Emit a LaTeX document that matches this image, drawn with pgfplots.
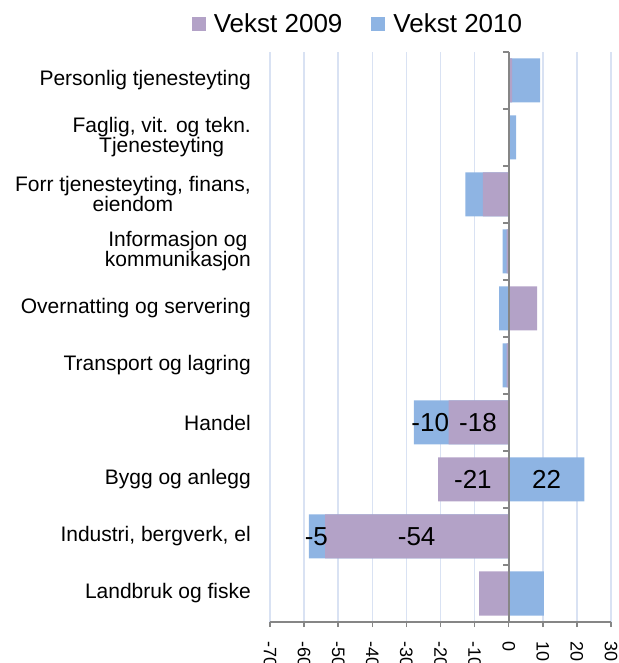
\documentclass[border=0pt]{standalone}
\usepackage{pgfplots}
\pgfplotsset{compat=1.18}
\usepackage{pgfplotstable}
\usepackage{fontspec}
\setmainfont{Liberation Sans}
\definecolor{cA}{RGB}{179,162,199}
\definecolor{cB}{RGB}{142,180,227}
\definecolor{gridc}{RGB}{217,226,243}
\definecolor{axc}{RGB}{134,134,134}

\pgfplotstableread{
y v09 v10
0 -8.7 10.3
1 -53.8 -4.8
2 -20.7 22.2
3 -17.6 -10.2
4 -0.6 -1.2
5 8.3 -2.8
6 -0.6 -1.2
7 -7.6 -5.1
8 0 2.2
9 1.0 8.2
}\datatable

\begin{document}
\begin{tikzpicture}
\useasboundingbox (-270pt,-41pt) rectangle (348pt,622pt);
\begin{axis}[
  at={(0pt,0pt)}, anchor=south west,
  scale only axis, width=341pt, height=570pt,
  xmin=-70, xmax=30, ymin=-0.5, ymax=9.5,
  xtick={-70,-60,...,30},
  ytick={0,...,9},
  yticklabels={Landbruk og fiske,{Industri, bergverk, el},Bygg og anlegg,Handel,Transport og lagring,Overnatting og servering,Informasjon og\\kommunikasjon,{Forr tjenesteyting, finans,\\eiendom},{Faglig, vit. og tekn.\\Tjenesteyting},Personlig tjenesteyting},
  axis x line*=bottom, axis y line*=left,
  y axis line style={draw=none},
  x axis line style={axc, line width=2pt},
  xmajorgrids, grid style={gridc, line width=1.5pt},
  tick align=outside,
  xtick style={axc, line width=1.5pt}, major tick length=5pt,
  ytick style={draw=none},
  /pgf/number format/assume math mode=true,
  xticklabel style={rotate=-90, anchor=west, font=\fontsize{18}{18}\selectfont, inner sep=0pt},
  xticklabel shift=14pt,
  yticklabel style={align=center, font=\fontsize{21}{20}\selectfont, inner sep=0pt},
  yticklabel shift=14pt,
  bar width=44pt,
  clip=false,
  legend style={at={(axis description cs:0.258,1.049)}, anchor=center, draw=none, fill=none,
    font=\fontsize{26}{26}\selectfont,
    /tikz/every even column/.append style={column sep=27pt},
    /tikz/every odd column/.append style={column sep=6pt}},
  legend columns=2,
  legend image code/.code={\fill[#1] (0pt,-7pt) rectangle (14pt,7pt);},
]
\addlegendimage{fill=cA, draw=none}
\addlegendentry{Vekst 2009}
\addlegendimage{fill=cB, draw=none}
\addlegendentry{Vekst 2010}

\addplot[xbar, bar shift=0pt, fill=cB, draw=none, forget plot]
  table[x expr={(\thisrow{v09}*\thisrow{v10}>=0) ? (\thisrow{v09}+\thisrow{v10}) : (\thisrow{v10})}, y=y]{\datatable};
\addplot[xbar, bar shift=0pt, fill=cA, draw=none, forget plot]
  table[x=v09, y=y]{\datatable};

\draw[axc, line width=2pt] (axis cs:0,-0.5) -- (axis cs:0,9.5);
\pgfplotsinvokeforeach{-0.5,0.5,1.5,2.5,3.5,4.5,5.5,6.5,7.5,8.5,9.5}{
  \draw[axc, line width=2pt] (axis cs:0,#1) -- ++(-6pt,0pt);
}

\addplot[only marks, mark=none, forget plot, nodes near coords, point meta=explicit symbolic,
  nodes near coords style={font=\fontsize{26}{26}\selectfont, anchor=center, text=black}]
  coordinates {(-23,3)[-10] (-9,3)[-18] (-10.5,2)[-21] (11.1,2)[22] (-56.4,1)[-5] (-27,1)[-54]};
\end{axis}
\end{tikzpicture}
\end{document}
